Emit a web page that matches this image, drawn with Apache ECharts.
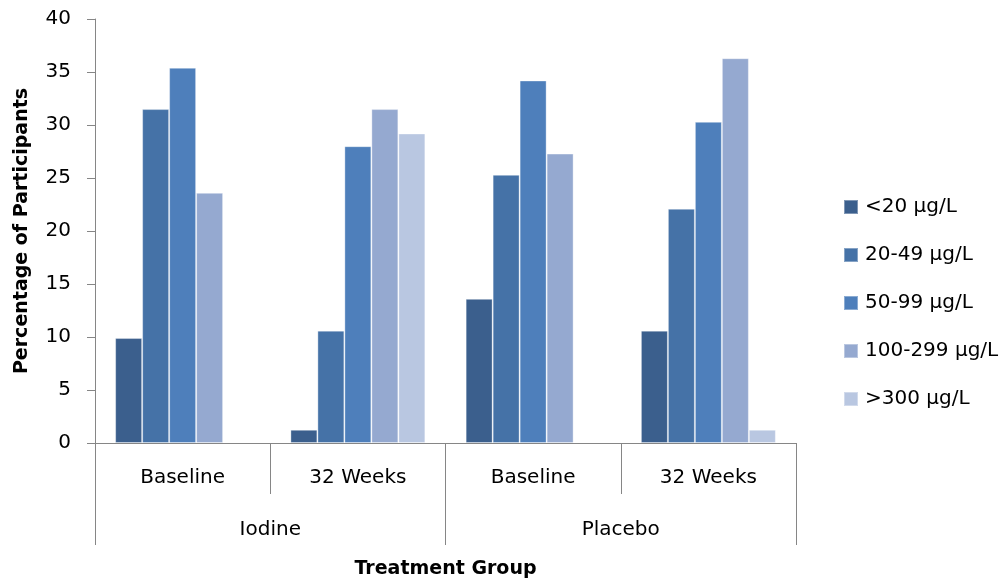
<!DOCTYPE html>
<html>
<head>
<meta charset="utf-8">
<script src="https://cdn.jsdelivr.net/npm/echarts@6/dist/echarts.min.js"></script>
<style>html,body{margin:0;padding:0;background:#fff}#c{width:1008px;height:584px}</style>
</head>
<body>
<div id="c"></div>
<script>
const categories = ['Baseline', '32 Weeks', 'Baseline', '32 Weeks'];
const groups = ['Iodine', 'Placebo'];
const seriesNames = ['<20 µg/L', '20-49 µg/L', '50-99 µg/L', '100-299 µg/L', '>300 µg/L'];
const lt20 = [9.9, 1.25, 13.6, 10.6];
const r20_49 = [31.5, 10.6, 25.3, 22.1];
const r50_99 = [35.4, 28.0, 34.2, 30.3];
const r100_299 = [23.6, 31.5, 27.3, 36.3];
const gt300 = [0, 29.2, 0, 1.25];
const yTicks = [0, 5, 10, 15, 20, 25, 30, 35, 40];
const colors = ['#3B5F8D', '#4572A7', '#4E7FBB', '#95A9D0', '#B9C7E1'];

const FONT = 'DejaVu Sans';
const values = [lt20, r20_49, r50_99, r100_299, gt300];
const chart = echarts.init(document.getElementById('c'), null, {renderer: 'canvas'});
chart.setOption({
  animation: false,
  textStyle: {fontFamily: FONT},
  grid: {left: 95, right: 212, top: 19, bottom: 141, containLabel: false, outerBoundsMode: 'none'},
  legend: {
    orient: 'vertical', left: 838, top: 192,
    itemWidth: 14, itemHeight: 14, itemGap: 28,
    icon: 'rect',
    textStyle: {fontFamily: FONT, fontSize: 20, color: '#000', lineHeight: 20, padding: [0, 0, 0, 2]},
    data: seriesNames
  },
  xAxis: [{
    type: 'category', data: categories, position: 'bottom',
    axisLine: {lineStyle: {color: '#868686', width: 1}},
    axisTick: {show: true, interval: 0, length: 51, lineStyle: {color: '#868686'}},
    axisLabel: {interval: 0, margin: 25, fontSize: 20, color: '#000', fontFamily: FONT}
  }, {
    type: 'category', data: groups, position: 'bottom',
    axisLine: {show: false},
    axisTick: {show: true, interval: 0, length: 102, lineStyle: {color: '#868686'}},
    axisLabel: {interval: 0, margin: 77, fontSize: 20, color: '#000', fontFamily: FONT},
    name: 'Treatment Group', nameLocation: 'middle', nameGap: 117,
    nameTextStyle: {fontFamily: FONT, fontWeight: 'bold', fontSize: 19, color: '#000'}
  }],
  yAxis: {
    type: 'value', min: 0, max: 40, interval: 5,
    axisLine: {show: true, lineStyle: {color: '#868686', width: 1}},
    axisTick: {show: true, length: 8, lineStyle: {color: '#868686'}},
    splitLine: {show: false},
    axisLabel: {margin: 24, fontSize: 20, color: '#000', fontFamily: FONT,
      formatter: v => yTicks.includes(v) ? String(v) : ''},
    name: 'Percentage of Participants', nameLocation: 'middle', nameGap: 63,
    nameTextStyle: {fontFamily: FONT, fontWeight: 'bold', fontSize: 19, color: '#000'}
  },
  series: seriesNames.map((n, i) => ({
    name: n, type: 'bar', xAxisIndex: 0,
    data: values[i].map(v => v === 0 ? '-' : v),
    barGap: '0%', barCategoryGap: '23%',
    itemStyle: {color: colors[i], borderColor: 'rgba(255,255,255,0.35)', borderWidth: 1}
  }))
});
</script>
</body>
</html>
